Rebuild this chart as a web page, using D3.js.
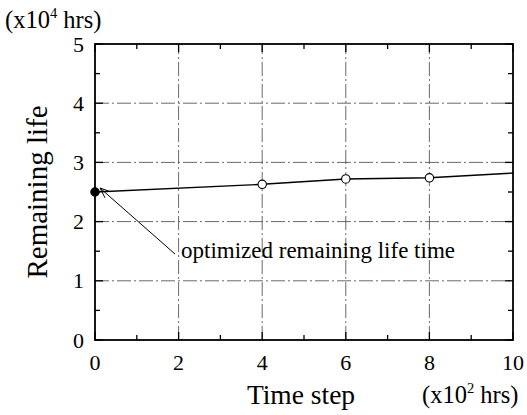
<!DOCTYPE html>
<html>
<head>
<meta charset="utf-8">
<script src="https://cdn.jsdelivr.net/npm/d3@7"></script>
<style>
  html, body { margin: 0; padding: 0; background: #fff; }
  svg { display: block; }
  text { font-family: "Liberation Serif", "Times New Roman", serif; fill: #000; }
</style>
</head>
<body>
<svg id="chart" width="527" height="415"></svg>
<script>
// Remaining life over time steps
const timeSteps = [0, 4, 6, 8, 10];            // x10^2 hrs
const remainingLife = [2.5, 2.63, 2.72, 2.74, 2.82]; // x10^4 hrs
const markerKind = ["filled", "open", "open", "open", "none"];
const xTicks = [0, 2, 4, 6, 8, 10];
const yTicks = [0, 1, 2, 3, 4, 5];
const xMinor = [1, 3, 5, 7, 9];
const yMinor = [0.5, 1.5, 2.5, 3.5, 4.5];

const svg = d3.select("#chart");
const margin = { left: 95, right: 14, top: 44, bottom: 75 };
const W = 527, H = 415;
const x = d3.scaleLinear().domain([0, 10]).range([margin.left, W - margin.right]);
const y = d3.scaleLinear().domain([0, 5]).range([H - margin.bottom, margin.top]);

// dash-dot grid
const grid = svg.append("g").attr("stroke", "#444").attr("stroke-width", 0.8)
  .attr("stroke-dasharray", "14,3,2,3");
grid.selectAll("line.v").data(xTicks.slice(1, -1)).join("line")
  .attr("x1", d => x(d)).attr("x2", d => x(d))
  .attr("y1", y(0)).attr("y2", y(5));
grid.selectAll("line.h").data(yTicks.slice(1, -1)).join("line")
  .attr("x1", x(0)).attr("x2", x(10))
  .attr("y1", d => y(d)).attr("y2", d => y(d));

// inward ticks on all four sides
const ticks = svg.append("g").attr("stroke", "#000").attr("stroke-width", 1.3);
const majorLen = 8, minorLen = 5;
[[xTicks, majorLen], [xMinor, minorLen]].forEach(([arr, len]) => {
  arr.forEach(d => {
    ticks.append("line").attr("x1", x(d)).attr("x2", x(d)).attr("y1", y(0)).attr("y2", y(0) - len);
    ticks.append("line").attr("x1", x(d)).attr("x2", x(d)).attr("y1", y(5)).attr("y2", y(5) + len);
  });
});
[[yTicks, majorLen], [yMinor, minorLen]].forEach(([arr, len]) => {
  arr.forEach(d => {
    ticks.append("line").attr("y1", y(d)).attr("y2", y(d)).attr("x1", x(0)).attr("x2", x(0) + len);
    ticks.append("line").attr("y1", y(d)).attr("y2", y(d)).attr("x1", x(10)).attr("x2", x(10) - len);
  });
});

// frame
svg.append("rect")
  .attr("x", x(0)).attr("y", y(5))
  .attr("width", x(10) - x(0)).attr("height", y(0) - y(5))
  .attr("fill", "none").attr("stroke", "#000").attr("stroke-width", 1.8);

// tick labels
svg.append("g").selectAll("text").data(xTicks).join("text")
  .attr("x", d => x(d)).attr("y", y(0) + 30)
  .attr("text-anchor", "middle").attr("font-size", 22)
  .text(d => d);
svg.append("g").selectAll("text").data(yTicks).join("text")
  .attr("x", x(0) - 11).attr("y", d => y(d) + 7.5)
  .attr("text-anchor", "end").attr("font-size", 22)
  .text(d => d);

// axis titles
svg.append("text").attr("x", 301).attr("y", 404)
  .attr("text-anchor", "middle").attr("font-size", 27.5).text("Time step");
const xu = svg.append("text").attr("x", 422).attr("y", 403).attr("font-size", 24.5);
xu.append("tspan").text("(x10");
xu.append("tspan").attr("font-size", 14.5).attr("dy", -10).text("2");
xu.append("tspan").attr("dy", 10).text(" hrs)");

svg.append("text")
  .attr("transform", "translate(47, 192) rotate(-90)")
  .attr("text-anchor", "middle").attr("font-size", 29).text("Remaining life");
const yu = svg.append("text").attr("x", 5).attr("y", 28).attr("font-size", 24.5);
yu.append("tspan").text("(x10");
yu.append("tspan").attr("font-size", 14.5).attr("dy", -10).text("4");
yu.append("tspan").attr("dy", 10).text(" hrs)");

// data line
const pts = timeSteps.map((t, i) => ({ t, v: remainingLife[i], k: markerKind[i] }));
svg.append("path").datum(pts)
  .attr("fill", "none").attr("stroke", "#000").attr("stroke-width", 1.4)
  .attr("d", d3.line().x(d => x(d.t)).y(d => y(d.v)));

svg.append("g").selectAll("circle").data(pts.filter(d => d.k !== "none")).join("circle")
  .attr("cx", d => x(d.t)).attr("cy", d => y(d.v)).attr("r", 4.2)
  .attr("fill", d => d.k === "filled" ? "#000" : "#fff")
  .attr("stroke", "#000").attr("stroke-width", 1.1);

// annotation with open arrowhead
const tip = [x(0) + 5, y(remainingLife[0]) - 4];
const tail = [175, 254];
svg.append("line")
  .attr("x1", tail[0]).attr("y1", tail[1]).attr("x2", tip[0]).attr("y2", tip[1])
  .attr("stroke", "#000").attr("stroke-width", 1);
const ang = Math.atan2(tail[1] - tip[1], tail[0] - tip[0]);
const headLen = 11, spread = 0.38;
[ang - spread, ang + spread].forEach(a => {
  svg.append("line")
    .attr("x1", tip[0]).attr("y1", tip[1])
    .attr("x2", tip[0] + headLen * Math.cos(a)).attr("y2", tip[1] + headLen * Math.sin(a))
    .attr("stroke", "#000").attr("stroke-width", 1);
});
svg.append("text").attr("x", 181).attr("y", 258).attr("font-size", 23)
  .text("optimized remaining life time");
</script>
</body>
</html>
